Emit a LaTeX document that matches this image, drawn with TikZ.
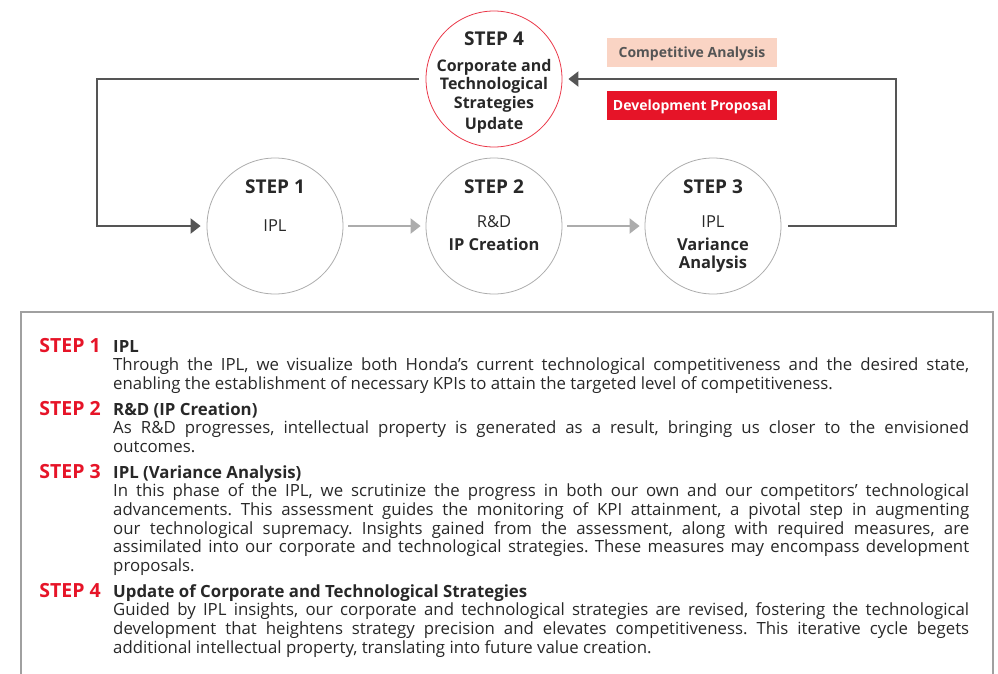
\documentclass[tikz,border=0pt]{standalone}
\usepackage{fontspec}
\setmainfont{Open Sans}
\usetikzlibrary{arrows.meta}
\definecolor{HondaRed}{RGB}{230,20,40}
\definecolor{PaleSalmon}{RGB}{250,212,196}
\definecolor{LoopGray}{RGB}{85,85,85}
\definecolor{RingGray}{RGB}{172,172,172}
\definecolor{InkGray}{RGB}{40,40,40}
\definecolor{PanelGray}{RGB}{160,160,160}
\frenchspacing
\newcommand{\stepentry}[5]{%
  \node[steptag,anchor=base east] (#1tag) at (101,#2) {#3};
  \node[stepbody,anchor=north west] (#1text) at (113,#2-12.95) {\strut\textbf{#4}\\#5};}

\begin{document}
\begin{tikzpicture}[x=1pt,y=-1pt,
  ring/.style={circle,draw=RingGray,line width=0.8pt,minimum size=136pt,inner sep=0pt},
  ringhead/.style={anchor=base,text=InkGray,inner sep=0pt,font=\bfseries\fontsize{19}{22}\selectfont},
  ringtext/.style={anchor=north,align=center,text=InkGray,inner sep=0pt,font=\fontsize{16.5}{18.5}\selectfont},
  flow/.style={draw=RingGray,line width=2pt,-{Triangle[length=10pt,width=15pt]},shorten <=5pt,shorten >=5pt},
  backflow/.style={draw=LoopGray,line width=2pt,-{Triangle[length=10pt,width=15pt]},shorten <=7pt,shorten >=6pt},
  tagbox/.style={minimum width=170pt,minimum height=29pt,inner sep=0pt,text height=10.5pt,text depth=1.5pt,font=\bfseries\fontsize{14}{16}\selectfont},
  steptag/.style={text=HondaRed,inner sep=0pt,font=\bfseries\fontsize{19.5}{22}\selectfont},
  stepbody/.style={text=InkGray,text width=856pt,align=justify,inner sep=0pt,font=\fontsize{16.8}{18.6}\selectfont},
  panel/.style={draw=PanelGray,line width=1.2pt}]
  \useasboundingbox (0,0) rectangle (998,673);

  % cycle
  \node[ring] (s1) at (275,226) {};
  \node[ring] (s2) at (494,226) {};
  \node[ring] (s3) at (713,226) {};
  \node[ring,draw=HondaRed!85] (s4) at (494,79) {};

  \node[ringhead] (s1head) at (275,193) {STEP 1};
  \node[ringhead] (s2head) at (494,193) {STEP 2};
  \node[ringhead] (s3head) at (713,193) {STEP 3};
  \node[ringhead] (s4head) at (494,45) {STEP 4};

  \node[ringtext] (s1body) at (275,218) {\strut IPL};
  \node[ringtext] (s2body) at (494,214) {\strut R\&D\\[4.5pt]\textbf{IP Creation}};
  \node[ringtext] (s3body) at (713,214) {\strut IPL\\[4.5pt]\textbf{Variance}\\\textbf{Analysis}};
  \node[ringtext,font=\bfseries\fontsize{16}{18.5}\selectfont] (s4body) at (494,58)
    {\strut Corporate and\\Technological\\Strategies\\[3pt]Update};

  \draw[flow] (s1) -- (s2);
  \draw[flow] (s2) -- (s3);

  \coordinate (rturn) at (896,79);
  \coordinate (lturn) at (97,226);
  \draw[backflow] (s3.east) -| (rturn) -- (s4.east);
  \draw[backflow] (s4.west) -| (lturn) -- (s1.west);

  \node[tagbox,fill=PaleSalmon,text=LoopGray] (compete) at (692,52.5) {Competitive Analysis};
  \node[tagbox,fill=HondaRed,text=white] (develop) at (692,105.5) {Development Proposal};

  % description panel
  \draw[panel] (21,680) |- (993,312) -- (993,680);
  \stepentry{p1}{352}{STEP 1}{IPL}{Through the IPL, we visualize both Honda’s current technological competitiveness and the desired state,\linebreak enabling the establishment of necessary KPIs to attain the targeted level of competitiveness.}
  \stepentry{p2}{415}{STEP 2}{R\&D (IP Creation)}{As R\&D progresses, intellectual property is generated as a result, bringing us closer to the envisioned\linebreak outcomes.}
  \stepentry{p3}{478}{STEP 3}{IPL (Variance Analysis)}{In this phase of the IPL, we scrutinize the progress in both our own and our competitors’ technological\linebreak advancements. This assessment guides the monitoring of KPI attainment, a pivotal step in augmenting\linebreak our technological supremacy. Insights gained from the assessment, along with required measures, are\linebreak assimilated into our corporate and technological strategies. These measures may encompass development\linebreak proposals.}
  \stepentry{p4}{597}{STEP 4}{Update of Corporate and Technological Strategies}{Guided by IPL insights, our corporate and technological strategies are revised, fostering the technological\linebreak development that heightens strategy precision and elevates competitiveness. This iterative cycle begets\linebreak additional intellectual property, translating into future value creation.}
\end{tikzpicture}
\end{document}
